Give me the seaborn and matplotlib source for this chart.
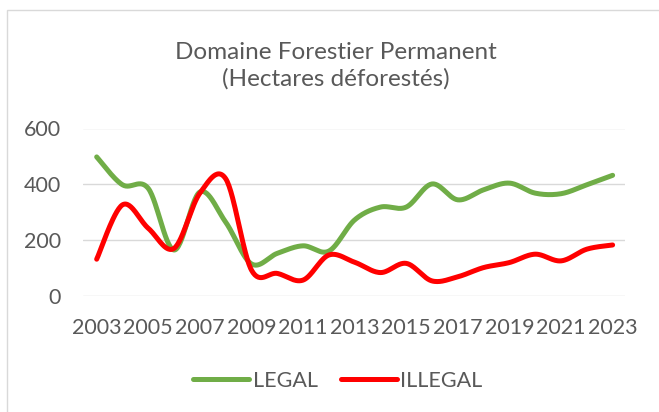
import numpy as np
import pandas as pd
import matplotlib
matplotlib.use("Agg")
import matplotlib.pyplot as plt
import seaborn as sns
from matplotlib.patches import Rectangle
from matplotlib.lines import Line2D

years = list(range(2003, 2024))
legal = [498, 398, 385, 164, 372, 264, 114, 152, 179, 160, 272,
         318, 318, 401, 344, 380, 404, 368, 366, 398, 432]
illegal = [131, 326, 242, 170, 368, 420, 92, 80, 56, 146, 120,
           83, 116, 53, 68, 101, 119, 149, 125, 167, 182]
series_names = ["LEGAL", "ILLEGAL"]
colors = ["#70AD47", "#FF0000"]
xtick_labels = [str(y) for y in range(2003, 2024, 2)]
yticks = [0, 200, 400, 600]
title = "Domaine Forestier Permanent\n(Hectares déforestés)"


def smooth(xs, ys, n=30):
    """Catmull-Rom smoothing (same as Excel smoothed lines)."""
    xs = np.asarray(xs, float)
    ys = np.asarray(ys, float)
    px = np.concatenate([[xs[0]], xs, [xs[-1]]])
    py = np.concatenate([[ys[0]], ys, [ys[-1]]])
    ox, oy = [], []
    t = np.linspace(0, 1, n, endpoint=False)
    for i in range(1, len(px) - 2):
        p0x, p1x, p2x, p3x = px[i - 1], px[i], px[i + 1], px[i + 2]
        p0y, p1y, p2y, p3y = py[i - 1], py[i], py[i + 1], py[i + 2]
        c1x = p1x + (p2x - p0x) / 6
        c1y = p1y + (p2y - p0y) / 6
        c2x = p2x - (p3x - p1x) / 6
        c2y = p2y - (p3y - p1y) / 6
        b0 = (1 - t) ** 3
        b1 = 3 * (1 - t) ** 2 * t
        b2 = 3 * (1 - t) * t ** 2
        b3 = t ** 3
        ox.extend(b0 * p1x + b1 * c1x + b2 * c2x + b3 * p2x)
        oy.extend(b0 * p1y + b1 * c1y + b2 * c2y + b3 * p2y)
    ox.append(xs[-1])
    oy.append(ys[-1])
    return np.array(ox), np.array(oy)


frames = []
for name, vals in zip(series_names, [legal, illegal]):
    sx, sy = smooth(years, vals)
    frames.append(pd.DataFrame({"year": sx, "value": sy, "series": name}))
df = pd.concat(frames, ignore_index=True)

sns.set_theme(style="white")
plt.rcParams["font.family"] = ["Lato", "DejaVu Sans"]
text_color = "#595959"

W, H = 659, 412
fig = plt.figure(figsize=(W / 100, H / 100), dpi=100)
ax = fig.add_axes([83 / W, 1 - 295.7 / H, (625 - 83) / W, (295.7 - 128.5) / H])

sns.lineplot(data=df, x="year", y="value", hue="series", sort=False,
             estimator=None, units="series", palette=colors,
             linewidth=3.6, ax=ax, legend=False)
for ln in ax.lines:
    ln.set_solid_capstyle("round")
    ln.set_solid_joinstyle("round")

ax.set_xlim(2002.47, 2023.48)
ax.set_ylim(0, 600)
ax.set_yticks(yticks)
ax.set_yticklabels([str(v) for v in yticks])
ax.set_xticks(list(range(2003, 2024, 2)))
ax.set_xticklabels(xtick_labels)
ax.set_xlabel("")
ax.set_ylabel("")
ax.grid(axis="y", color="#d9d9d9", linewidth=1.0)
ax.grid(axis="x", visible=False)
ax.set_axisbelow(True)
for s in ax.spines.values():
    s.set_visible(False)
ax.tick_params(axis="both", length=0, labelsize=15.5, colors=text_color)
ax.tick_params(axis="x", pad=16)
ax.tick_params(axis="y", pad=16)

fig.text(336 / W, 1 - 66 / H, title, ha="center", va="center",
         fontsize=17.5, color=text_color, linespacing=1.32)

handles = [Line2D([0], [0], color=c, linewidth=3.6, solid_capstyle="round")
           for c in colors]
fig.legend(handles, series_names, loc="center", ncol=2,
           bbox_to_anchor=(338 / W, 1 - 381 / H), frameon=False,
           fontsize=15.5, labelcolor=text_color, handlelength=2.6,
           handletextpad=0.15, columnspacing=1.1, borderaxespad=0)

fig.patches.append(Rectangle((7 / W, -0.1), 1.2, 1 - 10 / H + 0.1,
                             transform=fig.transFigure, fill=False,
                             edgecolor="#d9d9d9", linewidth=1.0))

fig.savefig("out.png", dpi=100)
